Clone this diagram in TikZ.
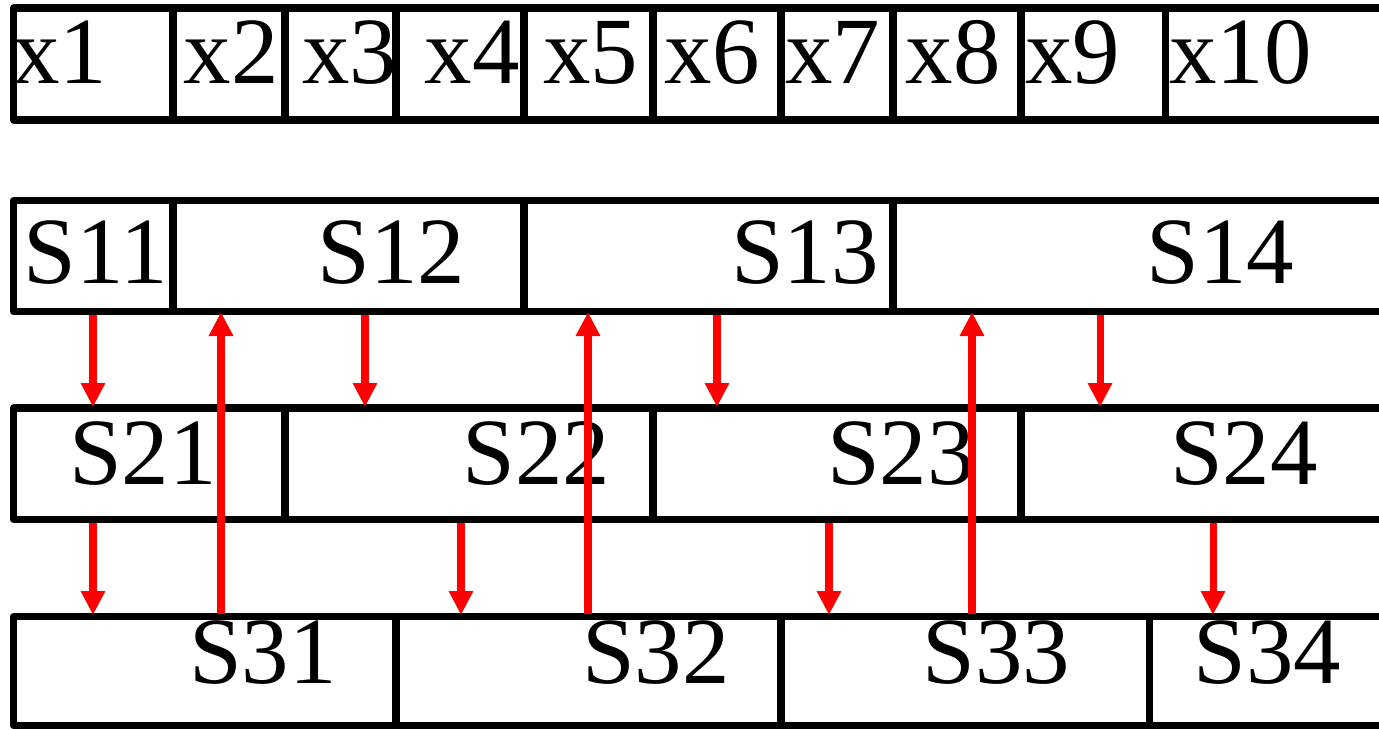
\documentclass[tikz,border=0pt]{standalone}
\usepackage{fontspec}
\setmainfont{Liberation Serif}
\usetikzlibrary{arrows.meta}

\tikzset{
  cell/.style = {line width=4pt, line join=round},
  lbl/.style  = {anchor=base, inner sep=0pt, font=\fontsize{54}{60}\selectfont},
  link/.style = {red, line width=4pt, -{Triangle[width=0.46cm,length=0.48cm]}}
}

\begin{document}
\begin{tikzpicture}[x=0.02cm,y=-0.02cm]
   \useasboundingbox (0,0) rectangle (1379,728);
   \clip (0,0) rectangle (1379,728);
   % rows of cells
   \draw[cell] (1400,8)   -- (13.5,8)   -- (13.5,120)   -- (1400,120);
   \draw[cell] (1400,200.5) -- (13.5,200.5) -- (13.5,311.7) -- (1400,311.7);
   \draw[cell] (1400,408) -- (13.5,408) -- (13.5,519.5) -- (1400,519.5);
   \draw[cell] (1400,616.5) -- (13.5,616.5) -- (13.5,725.5) -- (1400,725.5);
   % dividers
   \foreach \x in {173,285,396,524,653,781,893,1021,1165}
      \draw[cell] (\x,8) -- (\x,120);
   \foreach \x in {173,524,893}
      \draw[cell] (\x,200.5) -- (\x,311.7);
   \foreach \x in {285,653,1021}
      \draw[cell] (\x,408) -- (\x,519.5);
   \foreach \x in {396,781,1149}
      \draw[cell] (\x,616.5) -- (\x,725.5);
   % labels
   \node[lbl] (x1)  at (60,83)     {x1};
   \node[lbl] (x2)  at (231,83)    {x2};
   \node[lbl] (x3)  at (349.5,83)  {x3};
   \node[lbl] (x4)  at (472,83)    {x4};
   \node[lbl] (x5)  at (590.5,83)  {x5};
   \node[lbl] (x6)  at (712,83)    {x6};
   \node[lbl] (x7)  at (832.5,83)  {x7};
   \node[lbl] (x8)  at (953,83)    {x8};
   \node[lbl] (x9)  at (1072.5,83) {x9};
   \node[lbl] (x10) at (1240.5,83) {x10};
   \node[lbl] (S11) at (96,283)     {S11};
   \node[lbl] (S12) at (391.5,283)  {S12};
   \node[lbl] (S13) at (805,283)    {S13};
   \node[lbl] (S14) at (1220.5,283) {S14};
   \node[lbl] (S21) at (143,484)    {S21};
   \node[lbl] (S22) at (536.5,484)  {S22};
   \node[lbl] (S23) at (901,484)    {S23};
   \node[lbl] (S24) at (1244,484)   {S24};
   \node[lbl] (S31) at (263,683.5)    {S31};
   \node[lbl] (S32) at (656,683.5)    {S32};
   \node[lbl] (S33) at (996.5,683.5)  {S33};
   \node[lbl] (S34) at (1267.5,683.5) {S34};
   % arrow ends
   \coordinate (a1) at (93,315);   \coordinate (a1t) at (93,407);
   \coordinate (a2) at (365,315);  \coordinate (a2t) at (365,407);
   \coordinate (a3) at (717,315);  \coordinate (a3t) at (717,407);
   \coordinate (a4) at (1100,315); \coordinate (a4t) at (1100,407);
   \coordinate (b1) at (93,523);   \coordinate (b1t) at (93,615);
   \coordinate (b2) at (461,523);  \coordinate (b2t) at (461,615);
   \coordinate (b3) at (829,523);  \coordinate (b3t) at (829,615);
   \coordinate (b4) at (1213,523); \coordinate (b4t) at (1213,615);
   \coordinate (c1) at (221,614);  \coordinate (c1t) at (221,312);
   \coordinate (c2) at (588,614);  \coordinate (c2t) at (588,312);
   \coordinate (c3) at (972,614);  \coordinate (c3t) at (972,312);
   \draw[link] (a1) -- (a1t);
   \draw[link] (a2) -- (a2t);
   \draw[link] (a3) -- (a3t);
   \draw[link] (a4) -- (a4t);
   \draw[link] (b1) -- (b1t);
   \draw[link] (b2) -- (b2t);
   \draw[link] (b3) -- (b3t);
   \draw[link] (b4) -- (b4t);
   \draw[link] (c1) -- (c1t);
   \draw[link] (c2) -- (c2t);
   \draw[link] (c3) -- (c3t);
\end{tikzpicture}
\end{document}
